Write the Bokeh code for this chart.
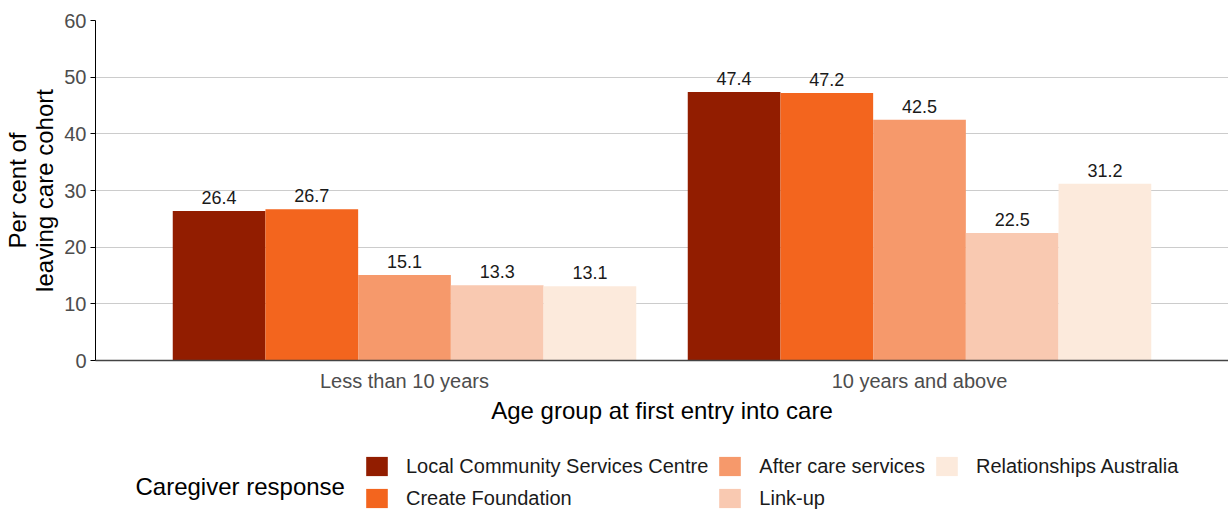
from bokeh.plotting import figure
from bokeh.layouts import column
from bokeh.models import (ColumnDataSource, FactorRange, FixedTicker, Legend, LegendItem,
                          LabelSet, Label)
from bokeh.core.properties import value
from bokeh.transform import dodge
from bokeh.embed import file_html
from bokeh.resources import INLINE

categories = ["Less than 10 years", "10 years and above"]
series_names = ["Local Community Services Centre", "Create Foundation",
                "After care services", "Link-up", "Relationships Australia"]
local_community = [26.4, 47.4]
create_foundation = [26.7, 47.2]
after_care = [15.1, 42.5]
link_up = [13.3, 22.5]
relationships_australia = [13.1, 31.2]
y_ticks = [0, 10, 20, 30, 40, 50, 60]

series_values = [local_community, create_foundation, after_care, link_up, relationships_australia]
colors = ["#921D00", "#F3651E", "#F6996B", "#F9C9B1", "#FCEADC"]

FONT = "Liberation Sans"

p = figure(width=1228, height=440, x_range=FactorRange(factors=categories, range_padding=0.1,
                                                       range_padding_units="absolute"),
           y_range=(0, 60), output_backend="svg", toolbar_location=None,
           min_border_left=95, min_border_right=0, min_border_top=20, min_border_bottom=80)
p.outline_line_color = None
p.background_fill_color = "white"

# legend panel (shares the ranges so legend swatches come from the same series renderers)
lg = figure(width=1228, height=70, x_range=p.x_range, y_range=p.y_range,
            output_backend="svg", toolbar_location=None,
            min_border_left=0, min_border_right=0, min_border_top=0, min_border_bottom=0)
lg.axis.visible = False
lg.grid.visible = False
lg.outline_line_color = None

bar_w = 0.18
items = []
for i, (name, vals, col) in enumerate(zip(series_names, series_values, colors)):
    src = ColumnDataSource(dict(cat=categories, val=vals, lbl=[f"{v:.1f}" for v in vals]))
    off = (i - 2) * bar_w
    p.vbar(x=dodge("cat", off, range=p.x_range), top="val", width=bar_w, source=src,
           fill_color=col, line_color=None)
    lab = LabelSet(x=dodge("cat", off, range=p.x_range), y="val", text="lbl", source=src,
                   text_align="center", text_baseline="bottom", y_offset=7,
                   text_font=value(FONT), text_font_size="18px", text_color="#1a1a1a")
    p.add_layout(lab)
    r = lg.vbar(x=dodge("cat", off, range=p.x_range), top="val", width=bar_w, source=src,
                fill_color=col, line_color=None, visible=False)
    items.append(LegendItem(label=name, renderers=[r]))

# axes
p.yaxis.ticker = FixedTicker(ticks=y_ticks)
p.yaxis.axis_label = "Per cent of\nleaving care cohort"
p.yaxis.axis_label_text_font = FONT
p.yaxis.axis_label_text_font_size = "24px"
p.yaxis.axis_label_text_font_style = "normal"
p.yaxis.axis_label_text_color = "black"
p.yaxis.axis_label_text_line_height = 1.0
p.yaxis.axis_label_standoff = 3
p.yaxis.major_label_text_font = FONT
p.yaxis.major_label_text_font_size = "20px"
p.yaxis.major_label_text_color = "#4D4D4D"
p.yaxis.axis_line_color = "black"
p.yaxis.major_tick_line_color = "black"
p.yaxis.major_tick_out = 5
p.yaxis.major_tick_in = 0
p.yaxis.minor_tick_line_color = None
p.yaxis.major_label_standoff = 4

p.xaxis.axis_label = "Age group at first entry into care"
p.xaxis.axis_label_text_font = FONT
p.xaxis.axis_label_text_font_size = "24px"
p.xaxis.axis_label_text_font_style = "normal"
p.xaxis.axis_label_text_color = "black"
p.xaxis.axis_label_standoff = 2
p.xaxis.major_label_text_font = FONT
p.xaxis.major_label_text_font_size = "20px"
p.xaxis.major_label_text_color = "#4D4D4D"
p.xaxis.axis_line_color = "#444444"
p.xaxis.axis_line_width = 1.5
p.xaxis.major_tick_line_color = None
p.xaxis.major_tick_out = 0
p.xaxis.major_label_standoff = 9

p.xgrid.grid_line_color = None
p.ygrid.grid_line_color = "#CCCCCC"
p.ygrid.grid_line_width = 1

order = [0, 2, 4, 1, 3]
legend = Legend(items=[items[k] for k in order], location=(268, 0), orientation="horizontal",
                ncols=3, click_policy="none", inactive_fill_alpha=0,
                label_text_font=FONT, label_text_font_size="20px", label_text_color="#1a1a1a",
                glyph_width=27, glyph_height=24, label_height=24, label_standoff=16,
                spacing=8, padding=0, margin=0, border_line_color=None,
                background_fill_alpha=0)
lg.add_layout(legend, "center")

title_lbl = Label(x=40, y=24, x_units="screen", y_units="screen", text="Caregiver response",
                  text_font=FONT, text_font_size="24px", text_color="black",
                  text_baseline="middle", text_align="left")
lg.add_layout(title_lbl)

layout = column(p, lg, spacing=0)
open("out.html", "w").write(file_html(layout, INLINE))
